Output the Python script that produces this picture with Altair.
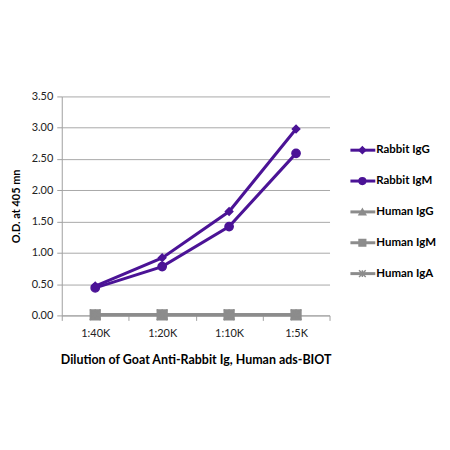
import altair as alt
import pandas as pd

dilutions = ["1:40K", "1:20K", "1:10K", "1:5K"]
series = ["Rabbit IgG", "Rabbit IgM", "Human IgG", "Human IgM", "Human IgA"]
rabbit_igg = [0.47, 0.92, 1.66, 2.98]
rabbit_igm = [0.44, 0.78, 1.42, 2.59]
human_igg = [0.01, 0.01, 0.01, 0.01]
human_igm = [0.01, 0.01, 0.01, 0.01]
human_iga = [0.01, 0.01, 0.01, 0.01]

colors = ["#4b1396", "#4b1396", "#8c8c8c", "#8c8c8c", "#8c8c8c"]
shapes = ["diamond", "circle", "triangle-up", "square",
          "M-1,-1L1,1M-1,1L1,-1M0,-1L0,1"]
sizes = [55, 110, 60, 70, 60]

values = [rabbit_igg, rabbit_igm, human_igg, human_igm, human_iga]
rows = []
for s, vals in zip(series, values):
    for d, v in zip(dilutions, vals):
        rows.append({"series": s, "dilution": d, "od": v})
df = pd.DataFrame(rows)
leg = pd.DataFrame({"series": series})

FONT = "Lato"
color_scale = alt.Scale(domain=series, range=colors)
shape_scale = alt.Scale(domain=series, range=shapes)
size_scale = alt.Scale(domain=series, range=sizes)

x = alt.X("dilution:N", sort=dilutions,
          scale=alt.Scale(type="band", paddingInner=0, paddingOuter=0),
          axis=alt.Axis(title="Dilution of Goat Anti-Rabbit Ig, Human ads-BIOT",
                        labelAngle=0, tickBand="extent", grid=False,
                        domainColor="#a0a0a0", tickColor="#a0a0a0", tickSize=5,
                        labelPadding=7, titlePadding=15, titleFontSize=12.5))
y = alt.Y("od:Q", scale=alt.Scale(domain=[0, 3.5], nice=False),
          axis=alt.Axis(title="O.D. at 405 mn", values=[0, 0.5, 1, 1.5, 2, 2.5, 3, 3.5],
                        format=".2f", gridColor="#a8a8a8", domainColor="#a0a0a0",
                        tickColor="#a0a0a0", tickSize=5, labelPadding=4, titlePadding=10))

base = alt.Chart(df)
lines = base.mark_line(strokeWidth=3).encode(
    x=x, y=y,
    color=alt.Color("series:N", scale=color_scale, legend=None),
    detail="series:N",
)
points = base.mark_point(filled=True, opacity=1, strokeWidth=1.5).encode(
    x=x, y=y,
    color=alt.Color("series:N", scale=color_scale, legend=None),
    stroke=alt.Stroke("series:N", scale=color_scale, legend=None),
    shape=alt.Shape("series:N", scale=shape_scale, legend=None),
    size=alt.Size("series:N", scale=size_scale, legend=None),
)

ly = alt.Y("series:N", sort=series,
           scale=alt.Scale(type="point", domain=series, range=[54, 178], padding=0),
           axis=None)
leg_base = alt.Chart(leg)
leg_rule = leg_base.mark_rule(strokeWidth=3).encode(
    x=alt.value(290), x2=alt.value(315), y=ly,
    color=alt.Color("series:N", scale=color_scale, legend=None),
)
leg_pt = leg_base.mark_point(filled=True, opacity=1, strokeWidth=1.5).encode(
    x=alt.value(302), y=ly,
    color=alt.Color("series:N", scale=color_scale, legend=None),
    stroke=alt.Stroke("series:N", scale=color_scale, legend=None),
    shape=alt.Shape("series:N", scale=shape_scale, legend=None),
    size=alt.value(45),
)
leg_txt = leg_base.mark_text(align="left", baseline="middle", font=FONT,
                             fontWeight="bold", fontSize=11.5, color="#000").encode(
    x=alt.value(316), y=ly, text="series:N",
)

main = alt.layer(lines, points)
legend = alt.layer(leg_rule, leg_pt, leg_txt)
chart = alt.layer(main, legend).resolve_scale(y="independent").properties(
    width=269, height=220,
    padding={"left": 2, "top": 82, "right": 5, "bottom": 5},
).configure_view(stroke=None).configure_axis(
    labelFont=FONT, titleFont=FONT, labelFontSize=11, titleFontSize=11,
    labelColor="#222", titleColor="#000", titleFontWeight="bold",
)

chart.save("out.html", embed_options={"renderer": "svg", "actions": False})
